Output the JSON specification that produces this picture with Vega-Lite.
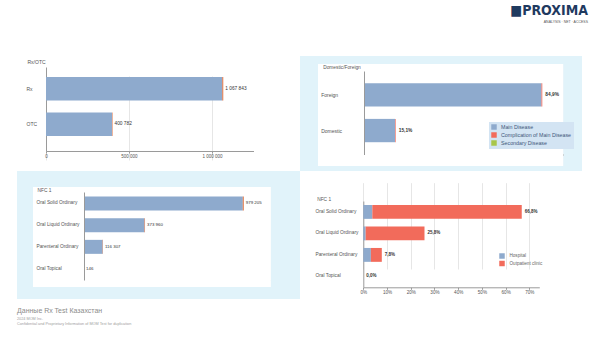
{
  "$schema": "https://vega.github.io/schema/vega-lite/v6.json",
  "background": "white",
  "padding": {"left": 17, "top": 4, "right": 5, "bottom": 2},
  "spacing": 0,
  "resolve": {"scale": {"color": "independent"}, "legend": {"color": "independent"}},
  "vconcat": [
    {
      "bounds": "flush",
      "spacing": 0,
      "resolve": {"scale": {"color": "independent"}, "legend": {"color": "independent"}},
      "hconcat": [
        {
          "width": 283,
          "height": 115,
          "view": {"fill": "white", "stroke": null},
          "data": {"values": [
            {"segment": "Rx", "series": "Main Disease", "value": 1061843},
            {"segment": "Rx", "series": "Complication of Main Disease", "value": 6000},
            {"segment": "OTC", "series": "Main Disease", "value": 397782},
            {"segment": "OTC", "series": "Complication of Main Disease", "value": 3000}
          ]},
          "encoding": {
            "y": {
              "field": "segment", "type": "nominal", "sort": ["Rx", "OTC"],
              "scale": {"range": [11, 95], "paddingInner": 0.34, "paddingOuter": 0.35, "align": 0.4},
              "axis": {"orient": "left", "offset": -29, "ticks": false, "labelAlign": "left", "labelPadding": 20, "labelFontSize": 5,
                       "title": "Rx/OTC", "titleAngle": 0, "titleAlign": "left", "titleBaseline": "middle", "titleX": -19, "titleY": 5, "titleFontSize": 5}
            }
          },
          "layer": [
            {
              "mark": {"type": "bar"},
              "encoding": {
                "x": {
                  "field": "value", "type": "quantitative", "stack": "zero",
                  "scale": {"domain": [0, 1250000], "range": [29, 236.5], "nice": false},
                  "axis": {"orient": "bottom", "offset": -20, "values": [0, 500000, 1000000], "format": ",.0f", "title": null, "grid": true, "labelFontSize": 4.5}
                },
                "color": {"field": "series", "type": "nominal",
                          "scale": {"domain": ["Main Disease", "Complication of Main Disease"], "range": ["#8eaacd", "#e0703f"]}, "legend": null},
                "order": {"field": "series", "type": "ordinal", "sort": "descending"}
              }
            },
            {
              "mark": {"type": "text", "align": "left", "baseline": "middle", "dx": 2, "fontSize": 4.8, "color": "#333"},
              "encoding": {
                "x": {"aggregate": "sum", "field": "value", "type": "quantitative"},
                "text": {"aggregate": "sum", "field": "value", "type": "quantitative", "format": ","}
              }
            }
          ]
        },
        {
          "width": 282,
          "height": 115,
          "view": {"fill": "#e1f3fa", "stroke": null},
          "title": {
            "text": "■PROXIMA", "subtitle": "ANALYSIS · NET · ACCESS",
            "anchor": "end", "orient": "top", "frame": "group", "offset": 33, "dx": 6,
            "font": "DejaVu Sans Condensed, Liberation Sans Narrow, sans-serif", "fontSize": 14, "fontWeight": "bold", "color": "#1f3a5f",
            "subtitleFont": "Liberation Sans", "subtitleFontSize": 3.5, "subtitleColor": "#555555", "subtitlePadding": 1.5
          },
          "data": {"values": [
            {"origin": "Foreign", "series": "Main Disease", "share": 0.845},
            {"origin": "Foreign", "series": "Complication of Main Disease", "share": 0.004},
            {"origin": "Domestic", "series": "Main Disease", "share": 0.148},
            {"origin": "Domestic", "series": "Complication of Main Disease", "share": 0.003}
          ]},
          "encoding": {
            "y": {
              "field": "origin", "type": "nominal", "sort": ["Foreign", "Domestic"],
              "scale": {"range": [15, 98.5], "paddingInner": 0.345, "paddingOuter": 0.345},
              "axis": {"orient": "left", "offset": -64, "ticks": false, "labelAlign": "left", "labelPadding": 43.3, "labelFontSize": 5,
                       "title": "Domestic/Foreign", "titleAngle": 0, "titleAlign": "left", "titleBaseline": "middle", "titleX": -41.3, "titleY": 11.3, "titleFontSize": 4.8}
            }
          },
          "layer": [
            {
              "mark": {"type": "rect", "color": "white"},
              "encoding": {
                "x": {"datum": -0.219}, "x2": {"datum": 0.948},
                "y": {"datum": "Foreign", "bandPosition": -0.83}, "y2": {"datum": "Domestic", "bandPosition": 2.02}
              }
            },
            {
              "mark": {"type": "bar"},
              "encoding": {
                "x": {
                  "field": "share", "type": "quantitative", "stack": "zero",
                  "scale": {"domain": [0, 0.95], "range": [64, 263.5], "nice": false},
                  "axis": {"orient": "bottom", "offset": -16.5, "values": [0, 0.2, 0.4, 0.6, 0.8], "format": ".0%", "title": null, "grid": true, "labelFontSize": 4.8}
                },
                "color": {"field": "series", "type": "nominal",
                          "scale": {"domain": ["Main Disease", "Complication of Main Disease", "Secondary Disease"], "range": ["#8eaacd", "#f26b5b", "#a8c64b"]},
                          "legend": {"orient": "none", "legendX": 189, "legendY": 66, "title": null, "fillColor": "#d3e4f3", "padding": 2,
                                     "symbolType": "square", "symbolSize": 30, "symbolStrokeWidth": 0, "labelFontSize": 5.3, "labelColor": "#41577a",
                                     "labelOffset": 4, "rowPadding": 1, "labelLimit": 200}},
                "order": {"field": "series", "type": "ordinal", "sort": "descending"}
              }
            },
            {
              "mark": {"type": "text", "align": "left", "baseline": "middle", "dx": 3, "fontSize": 4.8, "fontWeight": "bold", "color": "#333"},
              "encoding": {
                "x": {"aggregate": "sum", "field": "share", "type": "quantitative"},
                "text": {"aggregate": "sum", "field": "share", "type": "quantitative", "format": ".1%"}
              }
            }
          ]
        }
      ]
    },
    {
      "bounds": "flush",
      "spacing": 0,
      "resolve": {"scale": {"color": "independent"}, "legend": {"color": "independent"}},
      "hconcat": [
        {
          "width": 283,
          "height": 128,
          "view": {"fill": "#e1f3fa", "stroke": null},
          "title": {
            "text": "Данные Rx Test Казахстан",
            "subtitle": ["2024 MOM Inc.", "Confidential and Proprietary Information of MOM Test for duplication"],
            "orient": "bottom", "anchor": "start", "frame": "group", "offset": 8,
            "font": "Liberation Sans", "fontSize": 7, "fontWeight": "normal", "color": "#8c8c8c",
            "subtitleFont": "Liberation Sans", "subtitleFontSize": 3.8, "subtitleColor": "#a0a0a0", "subtitlePadding": 3, "subtitleLineHeight": 4.6
          },
          "data": {"values": [
            {"nfc": "Oral Solid Ordinary", "series": "Main Disease", "value": 973205},
            {"nfc": "Oral Solid Ordinary", "series": "Complication of Main Disease", "value": 6000},
            {"nfc": "Oral Liquid Ordinary", "series": "Main Disease", "value": 370960},
            {"nfc": "Oral Liquid Ordinary", "series": "Complication of Main Disease", "value": 3000},
            {"nfc": "Parenteral Ordinary", "series": "Main Disease", "value": 114307},
            {"nfc": "Parenteral Ordinary", "series": "Complication of Main Disease", "value": 2000},
            {"nfc": "Oral Topical", "series": "Main Disease", "value": 146}
          ]},
          "encoding": {
            "y": {
              "field": "nfc", "type": "nominal", "sort": ["Oral Solid Ordinary", "Oral Liquid Ordinary", "Parenteral Ordinary", "Oral Topical"],
              "scale": {"range": [21, 109], "paddingInner": 0.355, "paddingOuter": 0.205},
              "axis": {"orient": "left", "offset": -67, "ticks": false, "labelAlign": "left", "labelPadding": 48, "labelFontSize": 4.8,
                       "title": "NFC 1", "titleAngle": 0, "titleAlign": "left", "titleBaseline": "middle", "titleX": -47, "titleY": 19, "titleFontSize": 4.8}
            }
          },
          "layer": [
            {
              "mark": {"type": "rect", "color": "white"},
              "encoding": {
                "x": {"datum": -312500}, "x2": {"datum": 1142000},
                "y": {"datum": "Oral Solid Ordinary", "bandPosition": -0.675}, "y2": {"datum": "Oral Topical", "bandPosition": 1.82}
              }
            },
            {
              "mark": {"type": "bar"},
              "encoding": {
                "x": {
                  "field": "value", "type": "quantitative", "stack": "zero",
                  "scale": {"domain": [0, 1140000], "range": [67, 253], "nice": false},
                  "axis": {"orient": "bottom", "offset": -19, "values": [0, 500000, 1000000], "format": ",.0f", "title": null, "grid": true, "labelFontSize": 4.5}
                },
                "color": {"field": "series", "type": "nominal",
                          "scale": {"domain": ["Main Disease", "Complication of Main Disease"], "range": ["#8eaacd", "#e0703f"]}, "legend": null},
                "order": {"field": "series", "type": "ordinal", "sort": "descending"}
              }
            },
            {
              "mark": {"type": "text", "align": "left", "baseline": "middle", "dx": 2, "fontSize": 4.4, "color": "#333"},
              "encoding": {
                "x": {"aggregate": "sum", "field": "value", "type": "quantitative"},
                "text": {"aggregate": "sum", "field": "value", "type": "quantitative", "format": ","}
              }
            }
          ]
        },
        {
          "width": 282,
          "height": 128,
          "view": {"fill": "white", "stroke": null},
          "data": {"values": [
            {"nfc": "Oral Solid Ordinary", "channel": "Hospital", "share": 0.038},
            {"nfc": "Oral Solid Ordinary", "channel": "Outpatient clinic", "share": 0.630},
            {"nfc": "Oral Liquid Ordinary", "channel": "Hospital", "share": 0.010},
            {"nfc": "Oral Liquid Ordinary", "channel": "Outpatient clinic", "share": 0.248},
            {"nfc": "Parenteral Ordinary", "channel": "Hospital", "share": 0.032},
            {"nfc": "Parenteral Ordinary", "channel": "Outpatient clinic", "share": 0.046},
            {"nfc": "Oral Topical", "channel": "Hospital", "share": 0.0},
            {"nfc": "Oral Topical", "channel": "Outpatient clinic", "share": 0.0}
          ]},
          "encoding": {
            "y": {
              "field": "nfc", "type": "nominal", "sort": ["Oral Solid Ordinary", "Oral Liquid Ordinary", "Parenteral Ordinary", "Oral Topical"],
              "scale": {"range": [30, 116.3], "paddingInner": 0.354, "paddingOuter": 0.185},
              "axis": {"orient": "left", "offset": -63.3, "ticks": false, "labelAlign": "left", "labelPadding": 48.3, "labelFontSize": 4.8,
                       "title": "NFC 1", "titleAngle": 0, "titleAlign": "left", "titleBaseline": "middle", "titleX": -46.6, "titleY": 28.7, "titleFontSize": 4.8}
            }
          },
          "layer": [
            {
              "mark": {"type": "bar"},
              "encoding": {
                "x": {
                  "field": "share", "type": "quantitative", "stack": "zero",
                  "scale": {"domain": [0, 0.742], "range": [63.3, 239.3], "nice": false},
                  "axis": {"orient": "bottom", "offset": -11.7, "values": [0, 0.1, 0.2, 0.3, 0.4, 0.5, 0.6, 0.7], "format": ".0%", "title": null, "grid": true, "labelFontSize": 4.6}
                },
                "color": {"field": "channel", "type": "nominal",
                          "scale": {"domain": ["Hospital", "Outpatient clinic"], "range": ["#8eaacd", "#f26b5b"]},
                          "legend": {"orient": "none", "legendX": 199, "legendY": 82, "title": null, "padding": 0,
                                     "symbolType": "square", "symbolSize": 30, "symbolStrokeWidth": 0, "labelFontSize": 4.6, "labelColor": "#666666",
                                     "labelOffset": 4.5, "rowPadding": 1.5}},
                "order": {"field": "channel", "type": "ordinal", "sort": "ascending"}
              }
            },
            {
              "mark": {"type": "text", "align": "left", "baseline": "middle", "dx": 3, "fontSize": 4.5, "fontWeight": "bold", "color": "#333"},
              "encoding": {
                "x": {"aggregate": "sum", "field": "share", "type": "quantitative"},
                "text": {"aggregate": "sum", "field": "share", "type": "quantitative", "format": ".1%"}
              }
            }
          ]
        }
      ]
    }
  ],
  "config": {
    "locale": {"number": {"decimal": ",", "thousands": " ", "grouping": [3], "currency": ["", ""]}},
    "font": "Liberation Sans",
    "view": {"stroke": null},
    "axis": {
      "labelFont": "Liberation Sans", "titleFont": "Liberation Sans",
      "labelColor": "#555555", "titleColor": "#555555", "titleFontWeight": "normal",
      "domainColor": "#9a9a9a", "gridColor": "#e6e6e6", "tickColor": "#9a9a9a", "tickSize": 2,
      "labelFlush": false, "labelOverlap": false, "labelPadding": 0.5
    },
    "legend": {"labelFont": "Liberation Sans"}
  }
}
